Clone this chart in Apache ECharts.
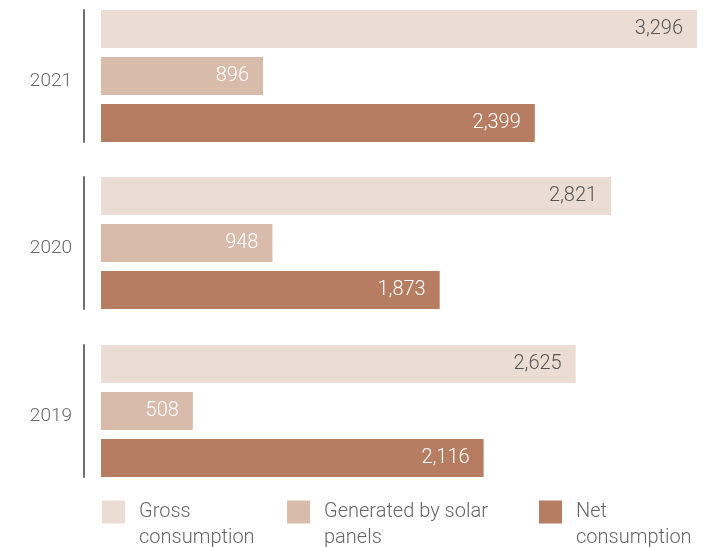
<!DOCTYPE html>
<html>
<head>
<meta charset="utf-8">
<script src="https://cdn.jsdelivr.net/npm/echarts@6/dist/echarts.min.js"></script>
<style>
  html, body { margin: 0; padding: 0; background: #fff; }
  #chart { width: 711px; height: 547px; }
</style>
</head>
<body>
<div id="chart"></div>
<script>
// values per year, top group first
var years = ["2021", "2020", "2019"];
var gross = [3296, 2821, 2625];
var solar = [896, 948, 508];
var net = [2399, 1873, 2116];

var seriesNames = ["Gross consumption", "Generated by solar panels", "Net consumption"];
// leading blank line puts the swatch level with the first text line
var legendText = ["\nGross\nconsumption", "\nGenerated by solar\npanels", "\nNet\nconsumption"];
var colors = ["#EBDDD4", "#D9BBAB", "#B67D62"];
var labelColors = ["#555555", "#ffffff", "#ffffff"];
var groupTops = [10, 177, 345];
var legendLefts = [97, 282, 534];

var chart = echarts.init(document.getElementById("chart"));
var font = "Roboto";

var grids = [], xAxes = [], yAxes = [], series = [];
years.forEach(function(year, i) {
  // axis line sits 17px left of where bars start, so the value axis begins below zero
  grids.push({ left: 84, width: 613, top: groupTops[i], height: 132 });
  xAxes.push({ gridIndex: i, type: "value", min: -94, max: 3296, show: false });
  yAxes.push({
    gridIndex: i,
    type: "category",
    data: [year],
    inverse: true,
    axisLine: { show: true, onZero: false, lineStyle: { color: "#707070", width: 2 } },
    axisTick: { show: false },
    axisLabel: {
      color: "#666", fontSize: 19, fontWeight: 300, fontFamily: font,
      margin: 12, verticalAlign: "top", lineHeight: 10
    }
  });
  [gross, solar, net].forEach(function(arr, k) {
    series.push({
      name: seriesNames[k],
      type: "bar",
      xAxisIndex: i,
      yAxisIndex: i,
      data: [arr[i]],
      barWidth: 38,
      barGap: "24%",
      itemStyle: { color: colors[k] },
      label: {
        show: true,
        position: "insideRight",
        distance: 14,
        color: labelColors[k],
        fontSize: 20,
        fontWeight: 300,
        fontFamily: font,
        formatter: function(p) {
          return p.value.toLocaleString("en-US");
        }
      }
    });
  });
});

// one legend per item so each can sit where the original puts it
var legends = seriesNames.map(function(name, k) {
  return {
    data: [name],
    left: legendLefts[k],
    top: 468,
    itemWidth: 23,
    itemHeight: 23,
    icon: "rect",
    selectedMode: false,
    formatter: function() { return legendText[k]; },
    textStyle: {
      color: "#666",
      fontSize: 20,
      fontWeight: 300,
      fontFamily: font,
      lineHeight: 26,
      padding: [0, 0, 0, 9]
    }
  };
});

chart.setOption({
  animation: false,
  grid: grids,
  xAxis: xAxes,
  yAxis: yAxes,
  legend: legends,
  series: series
});
</script>
</body>
</html>
